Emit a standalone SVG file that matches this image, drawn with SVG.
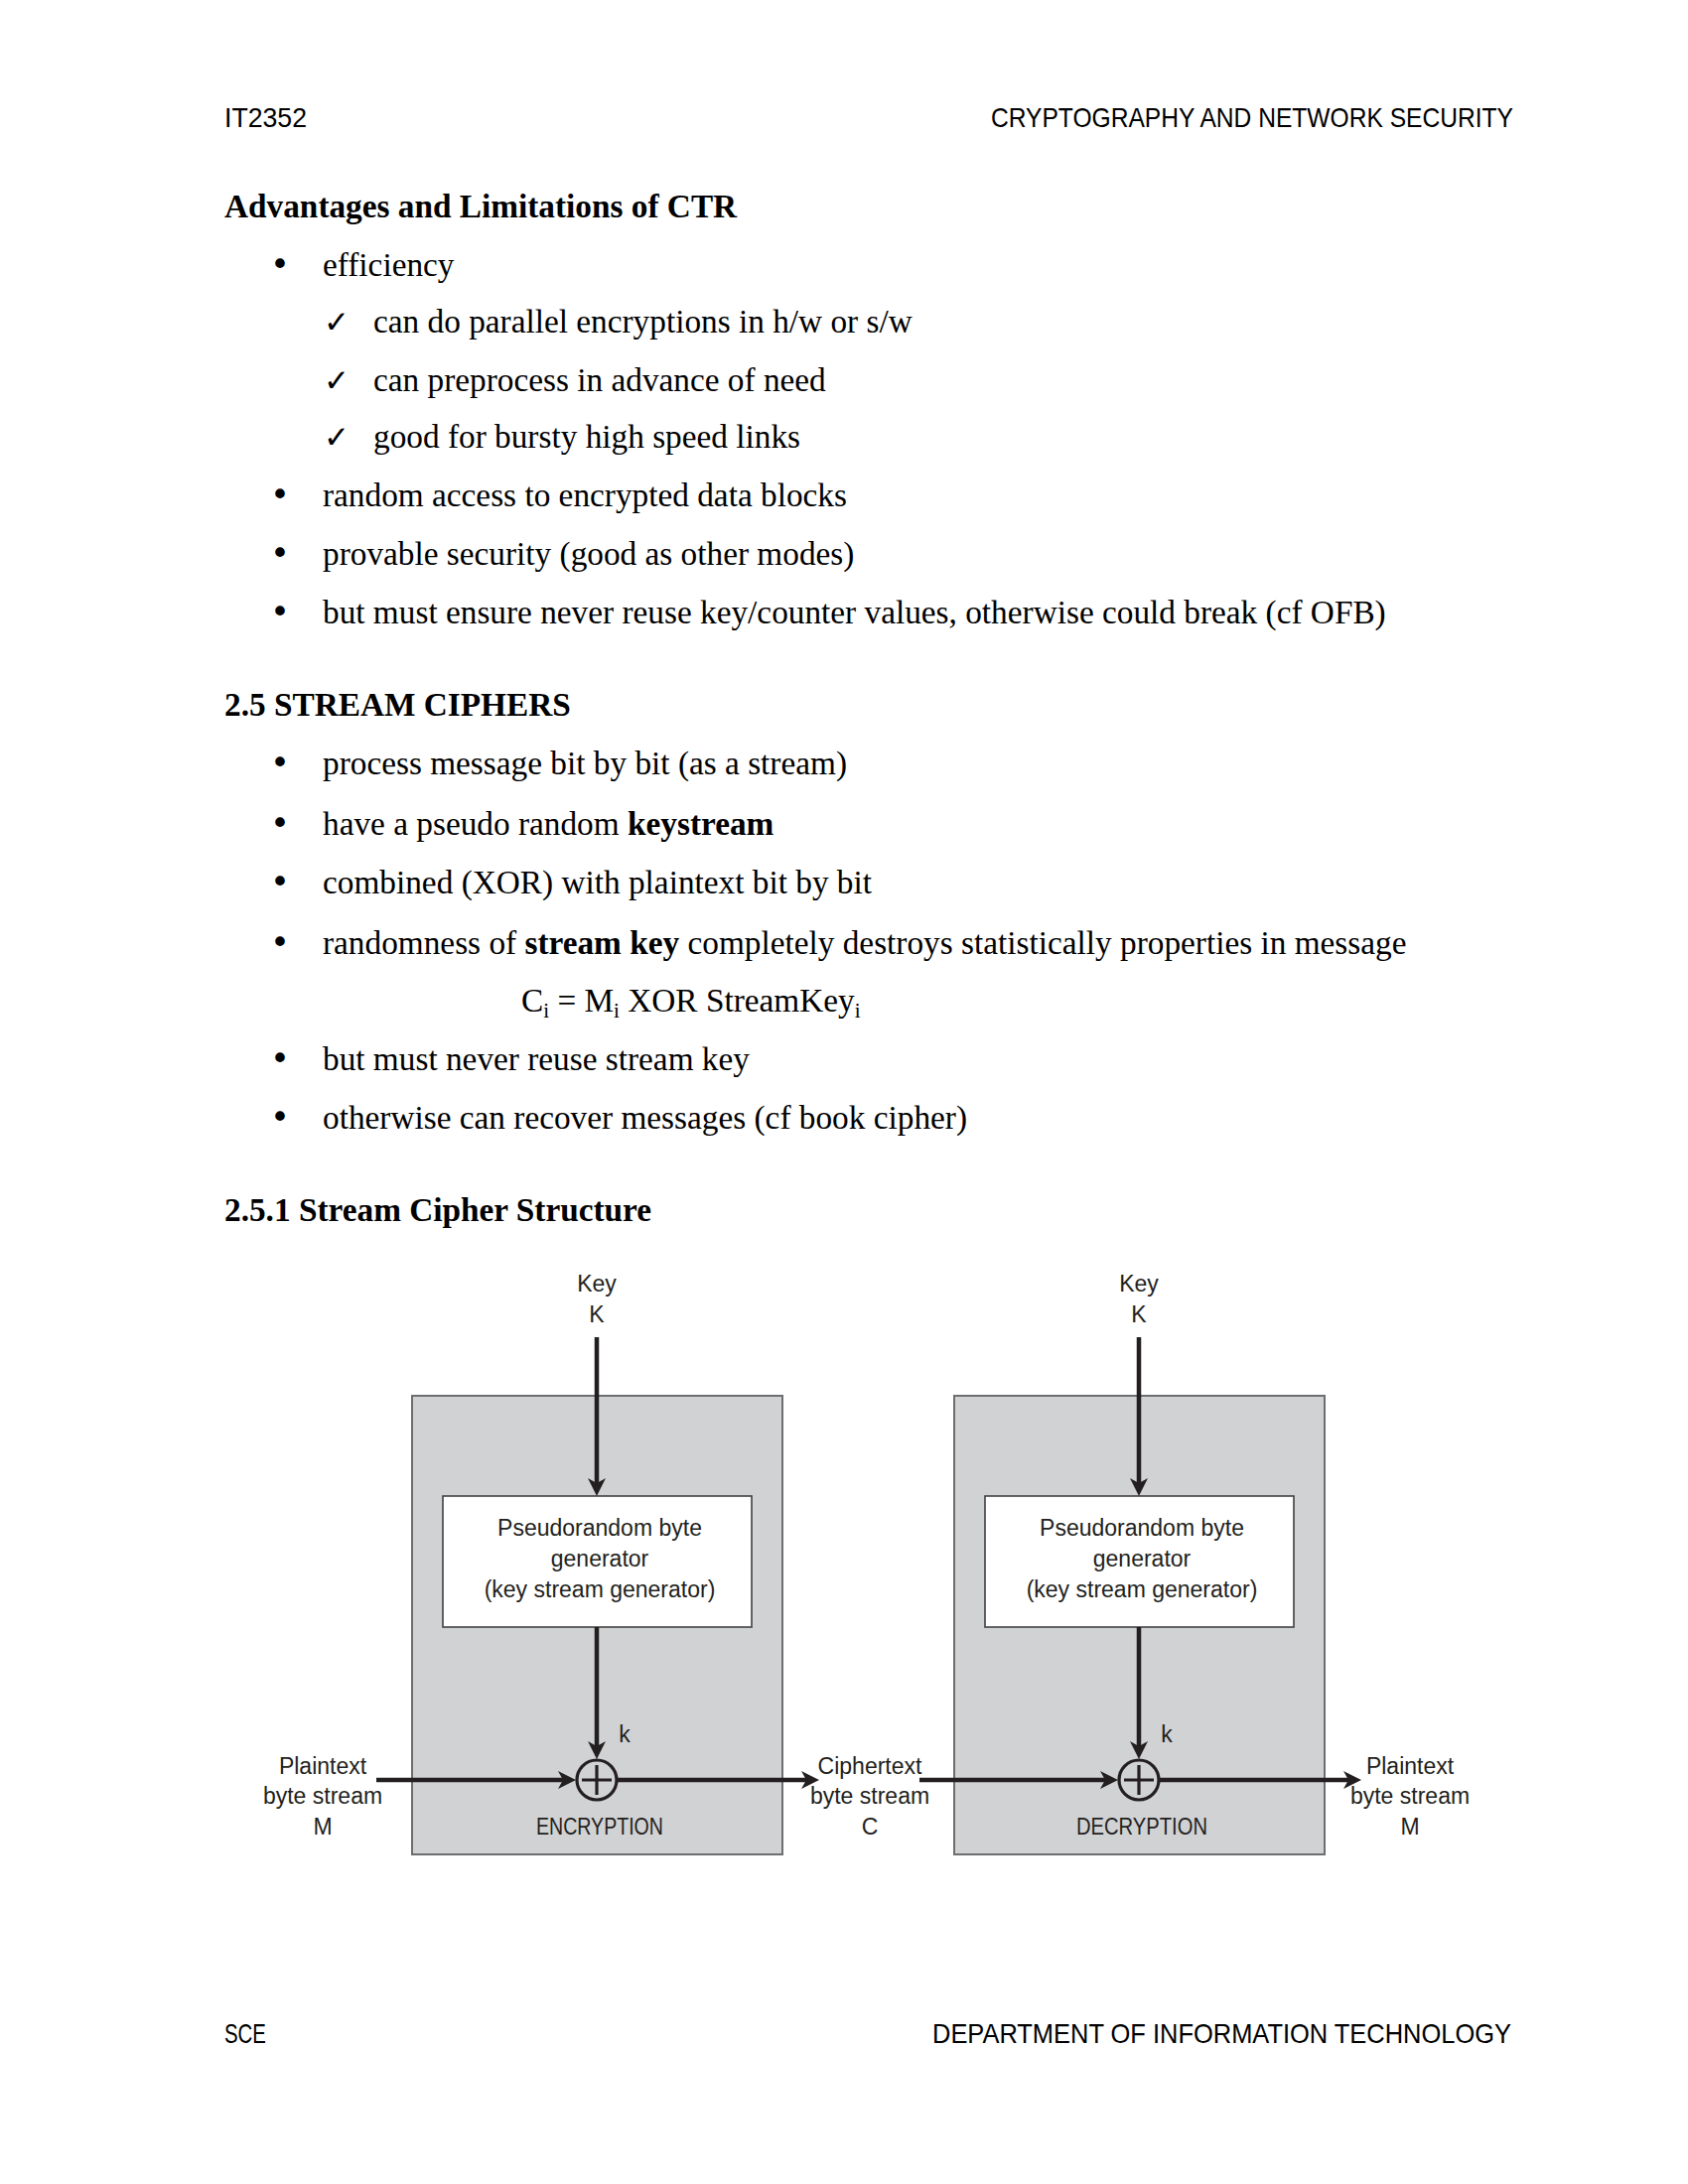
<svg xmlns="http://www.w3.org/2000/svg" width="1700" height="2200" viewBox="0 0 1700 2200">
<style>
.hf{font-family:"Liberation Sans",Arial,sans-serif;font-size:28px;fill:#000}
.b{font-family:"Liberation Serif","Times New Roman",serif;font-size:33.3px;fill:#000}
.bb{font-family:"Liberation Serif","Times New Roman",serif;font-size:33.3px;font-weight:bold;fill:#000}
.bl{font-family:"DejaVu Sans",sans-serif;font-size:33px;fill:#000;text-anchor:middle}
.ck{font-family:"DejaVu Sans",sans-serif;font-size:31px;font-weight:bold;fill:#000}
.d{font-family:"Liberation Sans",Arial,sans-serif;font-size:23px;fill:#231f20;text-anchor:middle}
.panel{fill:#d1d2d4;stroke:#6d6e70;stroke-width:2}
.gen{fill:#fff;stroke:#414042;stroke-width:1.6}
.xor{fill:none;stroke:#231f20;stroke-width:3.2}
.con{fill:none;stroke:#231f20;stroke-width:4.5}
</style>
<defs>
<marker id="ah" viewBox="0 0 18 18" refX="5" refY="9" markerWidth="18" markerHeight="18" markerUnits="userSpaceOnUse" orient="auto">
<path d="M0,0 L18,9 L0,18 L5,9 Z" fill="#231f20"/>
</marker>
</defs>
<rect width="1700" height="2200" fill="#fff"/>

<g id="header">
<text class="hf" x="226" y="128" textLength="83" lengthAdjust="spacingAndGlyphs">IT2352</text>
<text class="hf" x="1524" y="128" text-anchor="end" textLength="526" lengthAdjust="spacingAndGlyphs">CRYPTOGRAPHY AND NETWORK SECURITY</text>
</g>

<g id="body">
<text class="bb" x="226" y="219">Advantages and Limitations of CTR</text>
<text class="bl" x="282" y="278">•</text><text class="b" x="325" y="278">efficiency</text>
<text class="ck" x="326" y="335">✓</text><text class="b" x="376" y="335">can do parallel encryptions in h/w or s/w</text>
<text class="ck" x="326" y="394">✓</text><text class="b" x="376" y="394">can preprocess in advance of need</text>
<text class="ck" x="326" y="451">✓</text><text class="b" x="376" y="451">good for bursty high speed links</text>
<text class="bl" x="282" y="510">•</text><text class="b" x="325" y="510">random access to encrypted data blocks</text>
<text class="bl" x="282" y="569">•</text><text class="b" x="325" y="569">provable security (good as other modes)</text>
<text class="bl" x="282" y="628">•</text><text class="b" x="325" y="628">but must ensure never reuse key/counter values, otherwise could break (cf OFB)</text>

<text class="bb" x="226" y="721">2.5 STREAM CIPHERS</text>
<text class="bl" x="282" y="780">•</text><text class="b" x="325" y="780">process message bit by bit (as a stream)</text>
<text class="bl" x="282" y="841">•</text><text class="b" x="325" y="841">have a pseudo random <tspan font-weight="bold">keystream</tspan></text>
<text class="bl" x="282" y="900">•</text><text class="b" x="325" y="900">combined (XOR) with plaintext bit by bit</text>
<text class="bl" x="282" y="961">•</text><text class="b" x="325" y="961">randomness of <tspan font-weight="bold">stream key</tspan> completely destroys statistically properties in message</text>
<text class="b" x="525" y="1019">C<tspan font-size="21" dy="6">i</tspan><tspan dy="-6"> = M</tspan><tspan font-size="21" dy="6">i</tspan><tspan dy="-6"> XOR StreamKey</tspan><tspan font-size="21" dy="6">i</tspan></text>
<text class="bl" x="282" y="1078">•</text><text class="b" x="325" y="1078">but must never reuse stream key</text>
<text class="bl" x="282" y="1137">•</text><text class="b" x="325" y="1137">otherwise can recover messages (cf book cipher)</text>

<text class="bb" x="226" y="1230">2.5.1 Stream Cipher Structure</text>
</g>

<g id="encryption-panel">
<rect class="panel" x="415" y="1406" width="373" height="462"/>
<text class="d" x="604" y="1848" textLength="128" lengthAdjust="spacingAndGlyphs">ENCRYPTION</text>
</g>
<g id="decryption-panel">
<rect class="panel" x="961" y="1406" width="373" height="462"/>
<text class="d" x="1150" y="1848" textLength="132" lengthAdjust="spacingAndGlyphs">DECRYPTION</text>
</g>

<g id="enc-generator">
<rect class="gen" x="446" y="1507" width="311" height="132"/>
<text class="d" x="604" y="1547">Pseudorandom byte</text>
<text class="d" x="604" y="1578">generator</text>
<text class="d" x="604" y="1609">(key stream generator)</text>
</g>
<g id="dec-generator">
<rect class="gen" x="992" y="1507" width="311" height="132"/>
<text class="d" x="1150" y="1547">Pseudorandom byte</text>
<text class="d" x="1150" y="1578">generator</text>
<text class="d" x="1150" y="1609">(key stream generator)</text>
</g>

<g id="enc-xor">
<circle class="xor" cx="601" cy="1793" r="20"/>
<path class="xor" d="M586,1793 H616 M601,1778 V1808"/>
</g>
<g id="dec-xor">
<circle class="xor" cx="1147" cy="1793" r="20"/>
<path class="xor" d="M1132,1793 H1162 M1147,1778 V1808"/>
</g>

<g id="enc-key">
<text class="d" x="601" y="1301">Key</text>
<text class="d" x="601" y="1332">K</text>
</g>
<g id="dec-key">
<text class="d" x="1147" y="1301">Key</text>
<text class="d" x="1147" y="1332">K</text>
</g>

<g id="plaintext-in">
<text class="d" x="325" y="1787">Plaintext</text>
<text class="d" x="325" y="1817">byte stream</text>
<text class="d" x="325" y="1848">M</text>
</g>
<g id="ciphertext">
<text class="d" x="876" y="1787">Ciphertext</text>
<text class="d" x="876" y="1817">byte stream</text>
<text class="d" x="876" y="1848">C</text>
</g>
<g id="plaintext-out">
<text class="d" x="1420" y="1787">Plaintext</text>
<text class="d" x="1420" y="1817">byte stream</text>
<text class="d" x="1420" y="1848">M</text>
</g>

<g id="connectors">
<path class="con" d="M601,1347 V1494" marker-end="url(#ah)"/>
<path class="con" d="M601,1639 V1759" marker-end="url(#ah)"/>
<path class="con" d="M379,1793 H567" marker-end="url(#ah)"/>
<path class="con" d="M621,1793 H812" marker-end="url(#ah)"/>
<path class="con" d="M1147,1347 V1494" marker-end="url(#ah)"/>
<path class="con" d="M1147,1639 V1759" marker-end="url(#ah)"/>
<path class="con" d="M926,1793 H1113" marker-end="url(#ah)"/>
<path class="con" d="M1167,1793 H1358" marker-end="url(#ah)"/>
<text class="d" x="629" y="1755">k</text>
<text class="d" x="1175" y="1755">k</text>
</g>

<g id="footer">
<text class="hf" x="226" y="2058" textLength="42" lengthAdjust="spacingAndGlyphs">SCE</text>
<text class="hf" x="1522" y="2058" text-anchor="end" textLength="583" lengthAdjust="spacingAndGlyphs">DEPARTMENT OF INFORMATION TECHNOLOGY</text>
</g>
</svg>
